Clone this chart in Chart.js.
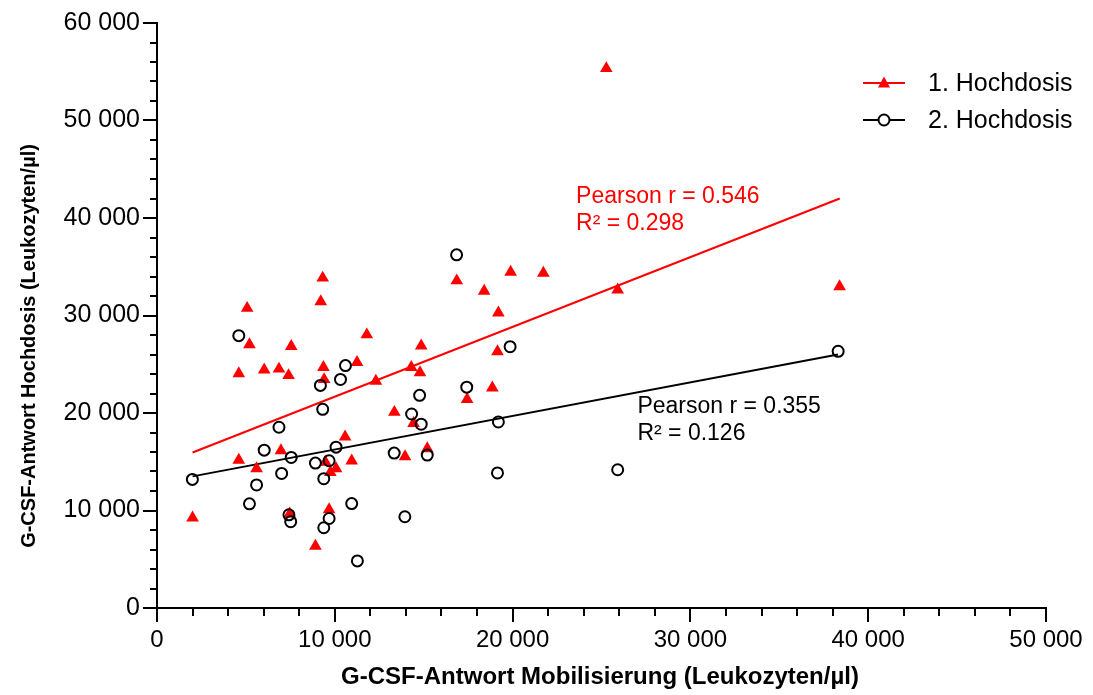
<!DOCTYPE html>
<html>
<head>
<meta charset="utf-8">
<script src="https://cdn.jsdelivr.net/npm/chart.js@4/dist/chart.umd.min.js"></script>
<style>
  html, body { margin: 0; padding: 0; background: #fff; }
  #wrap { width: 1093px; height: 695px; }
</style>
</head>
<body>
<div id="wrap"><canvas id="chart"></canvas></div>
<script>
// 1. Hochdosis (red triangles)
const hd1X = [2000, 4600, 5070, 5200, 4600, 5600, 6030, 6860, 6970, 7400, 7550, 7460, 8910, 9210, 9320,
  9360, 9400, 9470, 9680, 9750, 10070, 10580, 10950, 11250, 11800, 12310, 13350, 13950, 14300, 14430,
  14790, 14860, 15200, 16860, 17440, 18400, 18860, 19150, 19200, 19890, 21730, 25270, 25910, 38390]
const hd1Y = [9250, 15170, 30750, 27010, 24050, 14290, 24420, 24520, 16150, 23850, 26840, 9660, 6360, 31430, 33850,
  24690, 23440, 14960, 10100, 13910, 14290, 17550, 15100, 25200, 28030, 23270, 20080, 15540, 24690, 18950,
  24150, 26900, 16360, 33570, 21400, 32500, 22580, 26290, 30270, 34450, 34360, 55340, 32630, 32960]

// 2. Hochdosis (open circles)
const hd2X = [1990, 4600, 5200, 5600, 6030, 6860, 7010, 7420, 7520, 7550, 8910, 9190, 9320, 9380, 9380,
  9680, 9680, 10070, 10320, 10600, 10950, 11270, 13340, 13940, 14320, 14770, 14860, 15200, 16850, 17420,
  19200, 19150, 19860, 25910, 38310]
const hd2Y = [13190, 27930, 10680, 12620, 16190, 18540, 13800, 9560, 8850, 15440, 14860, 22830, 20380, 13260, 8230,
  15100, 9180, 16500, 23440, 24860, 10710, 4830, 15890, 9360, 19900, 21810, 18850, 15680, 36220, 22650,
  19080, 13850, 26800, 14180, 26330]

// regression lines (end points)
const fit1X = [2000, 38400]
const fit1Y = [15950, 42000]
const fit2X = [2000, 38300]
const fit2Y = [13500, 26000]

const seriesNames = ["1. Hochdosis", "2. Hochdosis"]
const statTexts = [["Pearson r = 0.546", "R\u00b2 = 0.298"], ["Pearson r = 0.355", "R\u00b2 = 0.126"]]

const xTitle = "G-CSF-Antwort Mobilisierung (Leukozyten/\u00b5l)"
const yTitle = "G-CSF-Antwort Hochdosis (Leukozyten/\u00b5l)"

const RED = "#ff0000"
const BLACK = "#000000"
const FONT = "'Liberation Sans', Arial, sans-serif"

const pts = (xs, ys) => xs.map((x, i) => ({ x: x, y: ys[i] }))
const fmt = (v) => String(v).replace(/\B(?=(\d{3})+(?!\d))/g, " ")

const overlay = {
  id: "overlay",
  afterDraw(chart) {
    const { ctx, chartArea, scales } = chart
    const x = scales.x, y = scales.y
    ctx.save()
    ctx.strokeStyle = BLACK
    ctx.lineWidth = 2
    ctx.beginPath()
    for (let v = 2000; v < 60000; v += 2000) {
      if (v % 10000 === 0) continue
      const py = Math.round(y.getPixelForValue(v))
      ctx.moveTo(chartArea.left - 7, py)
      ctx.lineTo(chartArea.left, py)
    }
    for (let v = 2000; v < 50000; v += 2000) {
      if (v % 10000 === 0) continue
      const px = Math.round(x.getPixelForValue(v))
      ctx.moveTo(px, chartArea.bottom)
      ctx.lineTo(px, chartArea.bottom + 8)
    }
    ctx.stroke()

    // axis titles
    ctx.fillStyle = BLACK
    ctx.textAlign = "center"
    ctx.textBaseline = "middle"
    ctx.font = "bold 24px " + FONT
    ctx.fillText(xTitle, 600, 677)
    ctx.save()
    ctx.translate(29, 346)
    ctx.rotate(-Math.PI / 2)
    ctx.font = "bold 20px " + FONT
    ctx.fillText(yTitle, 0, 0)
    ctx.restore()

    // correlation notes
    ctx.font = "23px " + FONT
    ctx.textBaseline = "alphabetic"
    ctx.textAlign = "left"
    const notes = [
      { color: RED, x: 23570, y: [41550, 38780], lines: statTexts[0] },
      { color: BLACK, x: 27020, y: [20030, 17270], lines: statTexts[1] }
    ]
    notes.forEach((n) => {
      ctx.fillStyle = n.color
      n.lines.forEach((t, i) => ctx.fillText(t, x.getPixelForValue(n.x), y.getPixelForValue(n.y[i])))
    })

    // legend
    const lx0 = 863, lx1 = 905, ly = [83, 120]
    const colors = [RED, BLACK]
    colors.forEach((c, i) => {
      ctx.strokeStyle = c
      ctx.lineWidth = 2
      ctx.beginPath()
      ctx.moveTo(lx0, ly[i])
      ctx.lineTo(lx1, ly[i])
      ctx.stroke()
      const cx = (lx0 + lx1) / 2
      if (i === 0) {
        ctx.fillStyle = c
        ctx.beginPath()
        ctx.moveTo(cx, ly[i] - 6.5)
        ctx.lineTo(cx + 6, ly[i] + 4.5)
        ctx.lineTo(cx - 6, ly[i] + 4.5)
        ctx.closePath()
        ctx.fill()
      } else {
        ctx.fillStyle = "#fff"
        ctx.beginPath()
        ctx.arc(cx, ly[i], 5.5, 0, Math.PI * 2)
        ctx.fill()
        ctx.stroke()
      }
      ctx.fillStyle = BLACK
      ctx.font = "25px " + FONT
      ctx.textBaseline = "middle"
      ctx.fillText(seriesNames[i], 928, ly[i] + 1)
    })
    ctx.restore()
  }
}

new Chart(document.getElementById("chart").getContext("2d"), {
  type: "scatter",
  data: {
    datasets: [
      {
        label: seriesNames[1],
        data: pts(hd2X, hd2Y),
        pointStyle: "circle",
        pointRadius: 5.5,
        borderColor: BLACK,
        borderWidth: 2,
        backgroundColor: "rgba(0,0,0,0)",
        order: 0
      },
      {
        label: seriesNames[0],
        data: pts(hd1X, hd1Y),
        pointStyle: "triangle",
        pointRadius: 7.3,
        borderWidth: 0,
        borderColor: RED,
        backgroundColor: RED,
        order: 1
      },
      {
        label: "fit1",
        data: pts(fit1X, fit1Y),
        showLine: true,
        pointRadius: 0,
        borderColor: RED,
        borderWidth: 2,
        order: 2
      },
      {
        label: "fit2",
        data: pts(fit2X, fit2Y),
        showLine: true,
        pointRadius: 0,
        borderColor: BLACK,
        borderWidth: 2,
        order: 3
      }
    ]
  },
  options: {
    responsive: true,
    maintainAspectRatio: false,
    animation: false,
    layout: { padding: { left: 0, right: 47, top: 23, bottom: 0 } },
    plugins: {
      legend: { display: false },
      tooltip: { enabled: false }
    },
    scales: {
      x: {
        type: "linear",
        min: 0,
        max: 50000,
        afterFit: (s) => { s.height = 87 },
        border: { color: BLACK, width: 2 },
        grid: { drawOnChartArea: false, color: BLACK, lineWidth: 2, tickLength: 14 },
        ticks: {
          stepSize: 10000,
          padding: 4,
          color: BLACK,
          font: { family: FONT, size: 24 },
          maxRotation: 0,
          callback: (v) => fmt(v)
        }
      },
      y: {
        type: "linear",
        min: 0,
        max: 60000,
        afterFit: (s) => { s.width = 157 },
        border: { color: BLACK, width: 2 },
        grid: { drawOnChartArea: false, color: BLACK, lineWidth: 2, tickLength: 14 },
        ticks: {
          stepSize: 10000,
          padding: 3,
          color: BLACK,
          font: { family: FONT, size: 25 },
          callback: (v) => fmt(v)
        }
      }
    }
  },
  plugins: [overlay]
})
</script>
</body>
</html>
